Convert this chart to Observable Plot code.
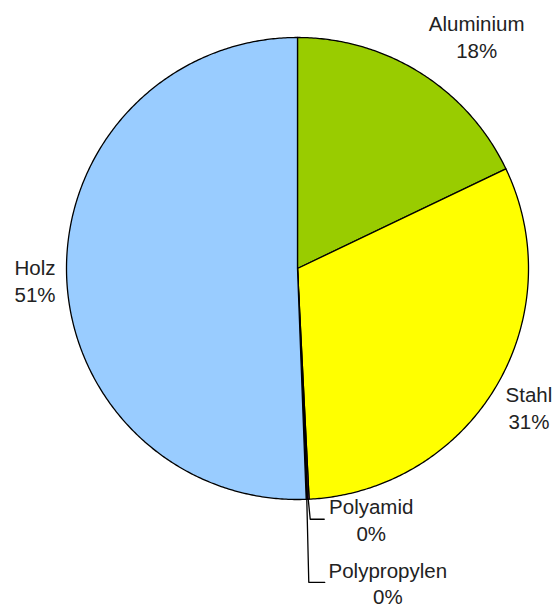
<!DOCTYPE html>
<html><head><meta charset="utf-8">
<script src="https://cdn.jsdelivr.net/npm/d3@7"></script>
<script src="https://cdn.jsdelivr.net/npm/@observablehq/plot@0.6"></script>
<style>body{margin:0;background:#fff}</style>
</head><body><div id="chart"></div>
<script>
// Data
const categories = ["Aluminium", "Stahl", "Polyamid", "Polypropylen", "Holz"];
const values = [17.9, 31.3, 0.12, 0.08, 50.6];
const colors = ["#99CC00", "#FFFF00", "#993366", "#333399", "#99CCFF"];

// Layout
const W = 558, H = 609, CX = 297, CY = 268, R = 231;
// label offsets (px) from the slice's mid-angle rim point, anchor, leader end offset
const labelLayout = [
  {dx: 56, dy: -37, anchor: "middle", leader: 0},
  {dx: 33, dy: 20, anchor: "middle", leader: 0},
  {dx: 63, dy: 20, anchor: "middle", leader: 16},
  {dx: 81, dy: 83, anchor: "middle", leader: 18},
  {dx: -11, dy: 7, anchor: "end", leader: 0}
];

const total = d3.sum(values);
let acc = 0;
const slices = categories.map((c, i) => {
  const a0 = acc / total * 2 * Math.PI;
  acc += values[i];
  const a1 = acc / total * 2 * Math.PI;
  return {c, i, a0, a1, v: values[i]};
});

const polyPts = [];
for (const s of slices) {
  polyPts.push({c: s.c, x: 0, y: 0});
  const n = Math.max(2, Math.ceil((s.a1 - s.a0) / (Math.PI / 360)));
  for (let k = 0; k <= n; k++) {
    const a = s.a0 + (s.a1 - s.a0) * k / n;
    polyPts.push({c: s.c, x: Math.sin(a), y: Math.cos(a)});
  }
  polyPts.push({c: s.c, x: 0, y: 0});
}

const labels = [];
const leaders = [];
slices.forEach((s, i) => {
  const m = (s.a0 + s.a1) / 2;
  const ex = Math.sin(m), ey = Math.cos(m);
  const L = labelLayout[i];
  const lx = ex + L.dx / R, ly = ey - L.dy / R;
  labels.push({
    x: lx, y: ly, anchor: L.anchor,
    text: s.c + "\n" + Math.round(s.v / total * 100) + "%"
  });
  if (L.leader) {
    leaders.push({c: s.c, x: ex, y: ey});
    leaders.push({c: s.c, x: ex + 2 / R, y: ly});
    leaders.push({c: s.c, x: ex + L.leader / R, y: ly});
  }
});

const textOpts = {
  x: "x", y: "y", text: "text", fontSize: 20.5, lineHeight: 1.3,
  fill: "#222", fontFamily: "Arial, 'Liberation Sans', sans-serif", lineAnchor: "middle"
};

const chart = Plot.plot({
  width: W, height: H,
  margin: 0,
  x: {domain: [-CX / R, (W - CX) / R], range: [0, W], axis: null},
  y: {domain: [(CY - H) / R, CY / R], range: [H, 0], axis: null},
  color: {domain: categories, range: colors},
  style: {background: "#fff"},
  marks: [
    Plot.line(polyPts, {x: "x", y: "y", z: "c", fill: "c", stroke: "#000", strokeWidth: 1.3, curve: "linear", strokeLinejoin: "round"}),
    Plot.line(leaders, {x: "x", y: "y", z: "c", stroke: "#000", strokeWidth: 1.3}),
    Plot.text(labels.filter(d => d.anchor === "middle"), {...textOpts, textAnchor: "middle"}),
    Plot.text(labels.filter(d => d.anchor === "end"), {...textOpts, textAnchor: "end"})
  ]
});
document.getElementById("chart").appendChild(chart);
</script>
</body></html>
